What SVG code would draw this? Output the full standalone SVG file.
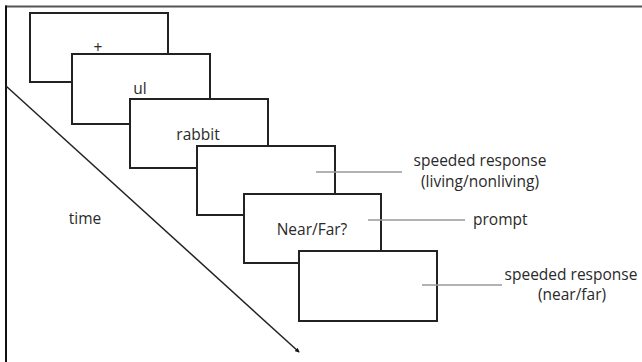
<svg xmlns="http://www.w3.org/2000/svg" width="642" height="362" viewBox="0 0 642 362">
<style>
.box{fill:#fff;stroke:#222;stroke-width:2}
.lbl{font-family:"Open Sans","Noto Sans",sans-serif;font-size:15.5px;fill:#2a2a2a}
.lead{stroke:#999;stroke-width:1.5}
</style>
<defs>
<marker id="ah" viewBox="0 0 6 6" refX="5" refY="3" markerWidth="3" markerHeight="3" orient="auto"><path d="M0,0L6,3L0,6z" fill="#111"/></marker>
</defs>
<rect width="642" height="362" fill="#fff"/>
<line x1="5" y1="6.5" x2="642" y2="6.5" stroke="#555" stroke-width="2"/>
<line x1="6" y1="5.5" x2="6" y2="362" stroke="#111" stroke-width="2"/>
<g id="frame1"><rect class="box" x="30" y="13" width="138" height="69"/><text class="lbl" x="98" y="53" text-anchor="middle">+</text></g>
<g id="frame2"><rect class="box" x="72" y="54" width="138" height="70"/><text class="lbl" x="140" y="94" text-anchor="middle">ul</text></g>
<g id="frame3"><rect class="box" x="130" y="99" width="138" height="69"/><text class="lbl" x="198" y="140" text-anchor="middle">rabbit</text></g>
<g id="frame4"><rect class="box" x="197" y="146" width="138" height="69"/></g>
<g id="frame5"><rect class="box" x="244" y="194" width="137" height="69"/><text class="lbl" x="312" y="235" text-anchor="middle">Near/Far?</text></g>
<g id="frame6"><rect class="box" x="299" y="251" width="138" height="70"/></g>
<g id="connectors">
<line x1="6" y1="86" x2="299" y2="352" stroke="#222" stroke-width="1.5" marker-end="url(#ah)"/>
<line class="lead" x1="316" y1="172" x2="402" y2="172"/>
<line class="lead" x1="368" y1="220" x2="465" y2="220"/>
<line class="lead" x1="422" y1="285" x2="502" y2="285"/>
</g>
<g id="labels">
<text class="lbl" x="85" y="224" text-anchor="middle">time</text>
<text class="lbl" x="480" y="166" text-anchor="middle">speeded response</text>
<text class="lbl" x="480" y="187" text-anchor="middle">(living/nonliving)</text>
<text class="lbl" x="473" y="225">prompt</text>
<text class="lbl" x="571" y="280" text-anchor="middle">speeded response</text>
<text class="lbl" x="572" y="300" text-anchor="middle">(near/far)</text>
</g>
</svg>
